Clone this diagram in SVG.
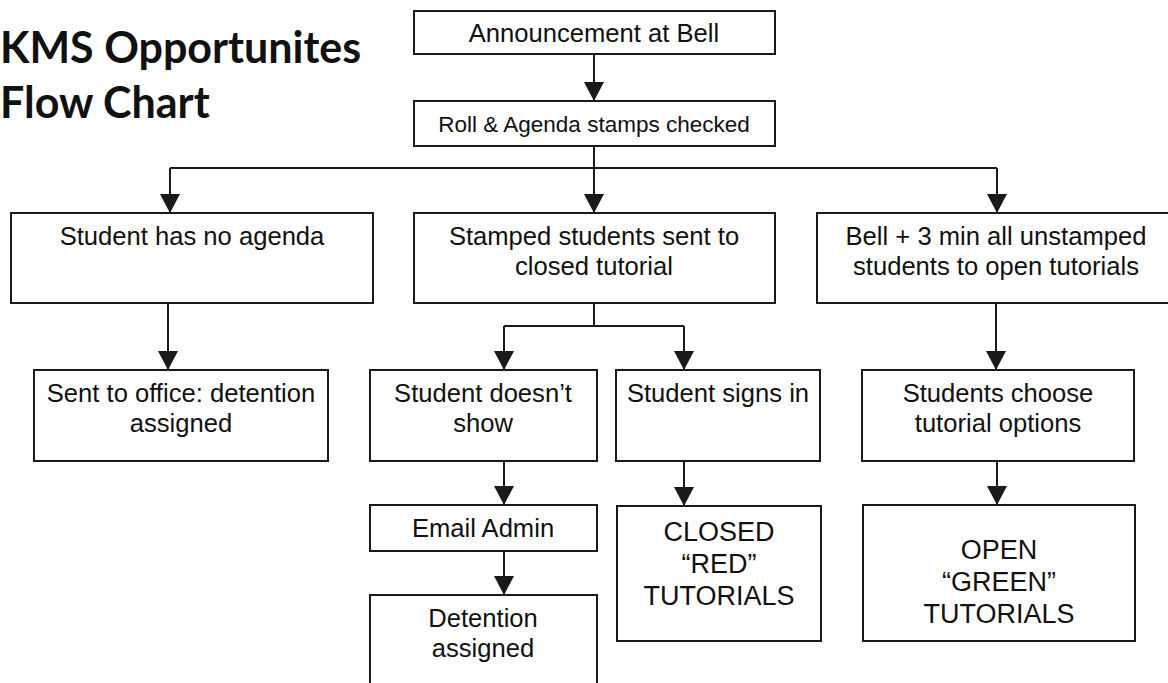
<svg xmlns="http://www.w3.org/2000/svg" width="1168" height="683" viewBox="0 0 1168 683">
<defs>
<style>
.box{fill:#fff;stroke:#1a1a1a;stroke-width:2}
.t{font-family:"Liberation Sans",Arial,sans-serif;font-size:25.6px;fill:#111;text-anchor:middle}
.big{font-size:27px}
.title{font-family:Lato,"Open Sans",sans-serif;font-weight:bold;font-size:43px;fill:#111}
.c{fill:none;stroke:#1a1a1a;stroke-width:2}
</style>
<marker id="ah" viewBox="0 0 19 20" refX="19" refY="10" markerWidth="19" markerHeight="20" markerUnits="userSpaceOnUse" orient="auto">
<path d="M0,0 L19,10 L0,20 z" fill="#1a1a1a"/>
</marker>
</defs>
<rect width="1168" height="683" fill="#fff"/>
<g id="title">
<text class="title" x="0" y="63">KMS Opportunites</text>
<text class="title" x="0" y="118">Flow Chart</text>
</g>
<g id="connectors">
<path class="c" d="M594,54 V101" marker-end="url(#ah)"/>
<path class="c" d="M594,146 V213" marker-end="url(#ah)"/>
<path class="c" d="M170,168 H997"/>
<path class="c" d="M170,168 V213" marker-end="url(#ah)"/>
<path class="c" d="M997,168 V213" marker-end="url(#ah)"/>
<path class="c" d="M168,303 V370" marker-end="url(#ah)"/>
<path class="c" d="M594,303 V326 M504,326 H684"/>
<path class="c" d="M504,326 V370" marker-end="url(#ah)"/>
<path class="c" d="M684,326 V370" marker-end="url(#ah)"/>
<path class="c" d="M996,303 V370" marker-end="url(#ah)"/>
<path class="c" d="M504,461 V505" marker-end="url(#ah)"/>
<path class="c" d="M684,461 V506" marker-end="url(#ah)"/>
<path class="c" d="M997,461 V505" marker-end="url(#ah)"/>
<path class="c" d="M504,551 V595" marker-end="url(#ah)"/>
</g>
<g id="announcement">
<rect class="box" x="414" y="11" width="361" height="43"/>
<text class="t" x="594" y="42">Announcement at Bell</text>
</g>
<g id="roll">
<rect class="box" x="414" y="101" width="361" height="45"/>
<text class="t" x="594" y="132" style="font-size:22.5px">Roll &amp; Agenda stamps checked</text>
</g>
<g id="no-agenda">
<rect class="box" x="11" y="213" width="362" height="90"/>
<text class="t" x="192" y="245">Student has no agenda</text>
</g>
<g id="stamped">
<rect class="box" x="414" y="213" width="361" height="90"/>
<text class="t" x="594" y="245">Stamped students sent to</text>
<text class="t" x="594" y="275">closed tutorial</text>
</g>
<g id="unstamped">
<rect class="box" x="817" y="213" width="358" height="90"/>
<text class="t" x="996" y="245">Bell + 3 min all unstamped</text>
<text class="t" x="996" y="275">students to open tutorials</text>
</g>
<g id="office">
<rect class="box" x="34" y="370" width="294" height="91"/>
<text class="t" x="181" y="402">Sent to office: detention</text>
<text class="t" x="181" y="432">assigned</text>
</g>
<g id="noshow">
<rect class="box" x="370" y="370" width="227" height="91"/>
<text class="t" x="483" y="402">Student doesn’t</text>
<text class="t" x="483" y="432">show</text>
</g>
<g id="signs-in">
<rect class="box" x="616" y="370" width="204" height="91"/>
<text class="t" x="718" y="402">Student signs in</text>
</g>
<g id="choose">
<rect class="box" x="862" y="370" width="272" height="91"/>
<text class="t" x="998" y="402">Students choose</text>
<text class="t" x="998" y="432">tutorial options</text>
</g>
<g id="email">
<rect class="box" x="370" y="505" width="227" height="46"/>
<text class="t" x="483" y="537">Email Admin</text>
</g>
<g id="detention">
<rect class="box" x="370" y="595" width="227" height="110"/>
<text class="t" x="483" y="627">Detention</text>
<text class="t" x="483" y="657">assigned</text>
</g>
<g id="closed">
<rect class="box" x="617" y="506" width="204" height="135"/>
<text class="t big" x="719" y="541">CLOSED</text>
<text class="t big" x="719" y="573">“RED”</text>
<text class="t big" x="719" y="605">TUTORIALS</text>
</g>
<g id="open">
<rect class="box" x="863" y="505" width="272" height="136"/>
<text class="t big" x="999" y="559">OPEN</text>
<text class="t big" x="999" y="591">“GREEN”</text>
<text class="t big" x="999" y="623">TUTORIALS</text>
</g>
</svg>
